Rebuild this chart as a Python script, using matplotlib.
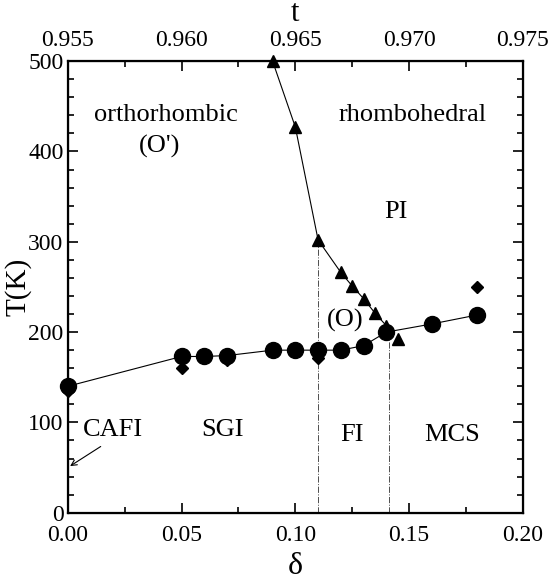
import numpy as np
import matplotlib.pyplot as plt
from matplotlib.ticker import MultipleLocator

plt.rcParams['font.family'] = ['Liberation Serif', 'DejaVu Serif']
plt.rcParams['mathtext.fontset'] = 'stix'

# circles (magnetic transition)
circ_d = [0.00, 0.05, 0.06, 0.07, 0.09, 0.10, 0.11, 0.12, 0.13, 0.14, 0.16, 0.18]
circ_T = [140, 173, 173, 174, 180, 180, 180, 180, 185, 200, 209, 219]

# diamonds
diam_d = [0.00, 0.05, 0.07, 0.11, 0.18]
diam_T = [135, 160, 169, 171, 250]

# triangles (structural transition)
tri_d = [0.09, 0.10, 0.11, 0.12, 0.125, 0.13, 0.135, 0.14, 0.145]
tri_T = [500, 427, 302, 266, 251, 237, 221, 207, 192]

# phase boundaries (vertical)
bound_d = [0.11, 0.141]
bound_T = [300, 200]

fig = plt.figure(figsize=(5.51, 5.82), dpi=100)
ax = fig.add_axes([0.123, 0.119, 0.826, 0.776])

ax.plot(circ_d, circ_T, 'k-', lw=0.8)
ax.plot(tri_d[:-1], tri_T[:-1], 'k-', lw=0.8)
for d, T in zip(bound_d, bound_T):
    ax.plot([d, d], [0, T], color='0.3', lw=0.7, ls='-.')

ax.plot(diam_d, diam_T, 'kD', ms=6, clip_on=False, zorder=3)
ax.plot(circ_d, circ_T, 'ko', ms=11.5, clip_on=False, zorder=4)
ax.plot(tri_d, tri_T, 'k^', ms=9, clip_on=False, zorder=5)

fs = 19
ax.text(0.043, 440, 'orthorhombic', fontsize=fs, ha='center', va='center')
ax.text(0.0405, 405, "(O')", fontsize=fs, ha='center', va='center')
ax.text(0.1515, 440, 'rhombohedral', fontsize=fs, ha='center', va='center')
ax.text(0.144, 333, 'PI', fontsize=fs, ha='center', va='center')
ax.text(0.122, 213, '(O)', fontsize=fs, ha='center', va='center')
ax.text(0.020, 92, 'CAFI', fontsize=fs, ha='center', va='center')
ax.text(0.068, 92, 'SGI', fontsize=fs, ha='center', va='center')
ax.text(0.125, 86, 'FI', fontsize=fs, ha='center', va='center')
ax.text(0.169, 86, 'MCS', fontsize=fs, ha='center', va='center')
ax.annotate('', xy=(0.0, 50), xytext=(0.0155, 75),
            arrowprops=dict(arrowstyle='->', lw=0.8, color='k'))

ax.set_xlim(0, 0.20)
ax.set_ylim(0, 500)
ax.xaxis.set_major_locator(MultipleLocator(0.05))
ax.xaxis.set_minor_locator(MultipleLocator(0.025))
ax.yaxis.set_major_locator(MultipleLocator(100))
ax.yaxis.set_minor_locator(MultipleLocator(20))
ax.xaxis.set_major_formatter(lambda v, p: f'{v:.2f}')
ax.tick_params(which='both', direction='in', top=False, right=True, labelsize=17, width=1.2)
ax.tick_params(axis='x', pad=9)
ax.tick_params(axis='y', pad=3)
ax.tick_params(which='major', length=7)
ax.tick_params(which='minor', length=4)
for s in ax.spines.values():
    s.set_linewidth(1.6)
ax.set_xlabel('δ', fontsize=23)
ax.set_ylabel('T(K)', fontsize=21)
ax.yaxis.set_label_coords(-0.08, 0.5)

ax2 = ax.twiny()
ax2.set_xlim(0.955, 0.975)
ax2.xaxis.set_major_locator(MultipleLocator(0.005))
ax2.xaxis.set_minor_locator(MultipleLocator(0.0025))
ax2.xaxis.set_major_formatter(lambda v, p: f'{v:.3f}')
ax2.tick_params(which='both', direction='in', labelsize=17, width=1.2, pad=7)
ax2.tick_params(which='major', length=7)
ax2.tick_params(which='minor', length=4)
ax2.set_xlabel('t', fontsize=22)
ax2.xaxis.set_label_coords(0.5, 1.088)

plt.savefig('out.png', dpi=100)
